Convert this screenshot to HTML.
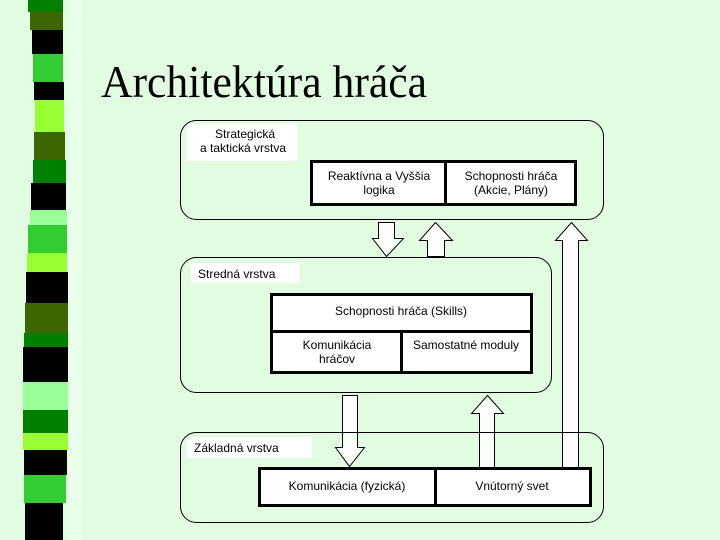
<!DOCTYPE html>
<html><head><meta charset="utf-8"><style>
html,body{margin:0;padding:0;width:720px;height:540px;overflow:hidden;background:#e2fce2}
svg{display:block}
text{font-family:"Liberation Sans",sans-serif;font-size:12px;fill:#000}
</style></head><body>
<svg width="720" height="540" viewBox="0 0 720 540">
<rect x="0" y="0" width="720" height="540" fill="#e2fce2"/>
<rect x="68" y="0" width="14" height="540" fill="#eaffea"/>
<g>
<rect x="28" y="0" width="35" height="12" fill="#008000"/>
<rect x="30" y="12" width="33" height="18" fill="#3d6600"/>
<rect x="32" y="30" width="31" height="24" fill="#000"/>
<rect x="33" y="54" width="30" height="28" fill="#33cc33"/>
<rect x="34" y="82" width="30" height="18" fill="#000"/>
<rect x="35" y="100" width="29" height="32" fill="#99ff33"/>
<rect x="34" y="132" width="31" height="28" fill="#3d6600"/>
<rect x="33" y="160" width="33" height="23" fill="#008000"/>
<rect x="31" y="183" width="35" height="27" fill="#000"/>
<rect x="30" y="210" width="37" height="15" fill="#99ff99"/>
<rect x="28" y="225" width="39" height="28" fill="#33cc33"/>
<rect x="27" y="253" width="40" height="19" fill="#99ff33"/>
<rect x="26" y="272" width="42" height="31" fill="#000"/>
<rect x="25" y="303" width="43" height="30" fill="#3d6600"/>
<rect x="24" y="333" width="44" height="14" fill="#008000"/>
<rect x="23" y="347" width="45" height="35" fill="#000"/>
<rect x="23" y="382" width="45" height="28" fill="#99ff99"/>
<rect x="23" y="410" width="45" height="23" fill="#008000"/>
<rect x="23" y="433" width="45" height="17" fill="#99ff33"/>
<rect x="24" y="450" width="43" height="25" fill="#000"/>
<rect x="24" y="475" width="42" height="28" fill="#33cc33"/>
<rect x="25" y="503" width="38" height="37" fill="#000"/>
</g>
<text x="101" y="97" style="font-family:'Liberation Serif',serif;font-size:46px" textLength="326" lengthAdjust="spacingAndGlyphs">Architektúra hráča</text>

<g fill="#fff" stroke="#000" stroke-width="1">
<polygon points="378.5,222.5 394.5,222.5 394.5,238.5 403.5,238.5 386.5,256.5 372.5,238.5 378.5,238.5"/>
<polygon points="435.5,222.5 452.5,240.5 444.5,240.5 444.5,256.5 427.5,256.5 427.5,240.5 419.5,240.5"/>
<polygon points="571.5,222.5 587.5,240.5 578.5,240.5 578.5,467.5 562.5,467.5 562.5,240.5 555.5,240.5"/>
<polygon points="342.5,395.5 357.5,395.5 357.5,447.5 364.5,447.5 349.5,466.5 335.5,447.5 342.5,447.5"/>
<polygon points="487.5,395.5 503.5,413.5 494.5,413.5 494.5,467.5 479.5,467.5 479.5,413.5 471.5,413.5"/>
</g>

<g fill="none" stroke="#000" stroke-width="1">
<rect x="180.5" y="120.5" width="423" height="99" rx="16"/>
<rect x="180.5" y="257.5" width="371" height="135" rx="16"/>
<rect x="180.5" y="432.5" width="423" height="90" rx="16"/>
</g>
<rect x="187" y="124" width="111" height="37" fill="#fff"/>
<text x="245" y="138" text-anchor="middle">Strategická</text>
<text x="243" y="152" text-anchor="middle">a taktická vrstva</text>
<rect x="191" y="263" width="109" height="20" fill="#fff"/>
<text x="198" y="278">Stredná vrstva</text>
<rect x="187" y="437" width="125" height="21" fill="#fff"/>
<text x="194" y="452">Základná vrstva</text>

<g fill="#fff" stroke="#000" stroke-width="3">
<rect x="311.5" y="161.5" width="134" height="43"/>
<rect x="445.5" y="161.5" width="130" height="43"/>
<rect x="271.5" y="294.5" width="260" height="37"/>
<rect x="271.5" y="331.5" width="130" height="41"/>
<rect x="401.5" y="331.5" width="130" height="41"/>
<rect x="259.5" y="468.5" width="176" height="37"/>
<rect x="435.5" y="468.5" width="155" height="37"/>
</g>
<text x="379" y="180" text-anchor="middle">Reaktívna a Vyššia</text>
<text x="379" y="194" text-anchor="middle">logika</text>
<text x="511" y="180" text-anchor="middle">Schopnosti hráča</text>
<text x="511" y="194" text-anchor="middle">(Akcie, Plány)</text>
<text x="401" y="315" text-anchor="middle">Schopnosti hráča (Skills)</text>
<text x="337" y="349" text-anchor="middle">Komunikácia</text>
<text x="337" y="363" text-anchor="middle">hráčov</text>
<text x="466" y="349" text-anchor="middle">Samostatné moduly</text>
<text x="347" y="490" text-anchor="middle">Komunikácia (fyzická)</text>
<text x="512" y="490" text-anchor="middle">Vnútorný svet</text>
</svg>
</body></html>
